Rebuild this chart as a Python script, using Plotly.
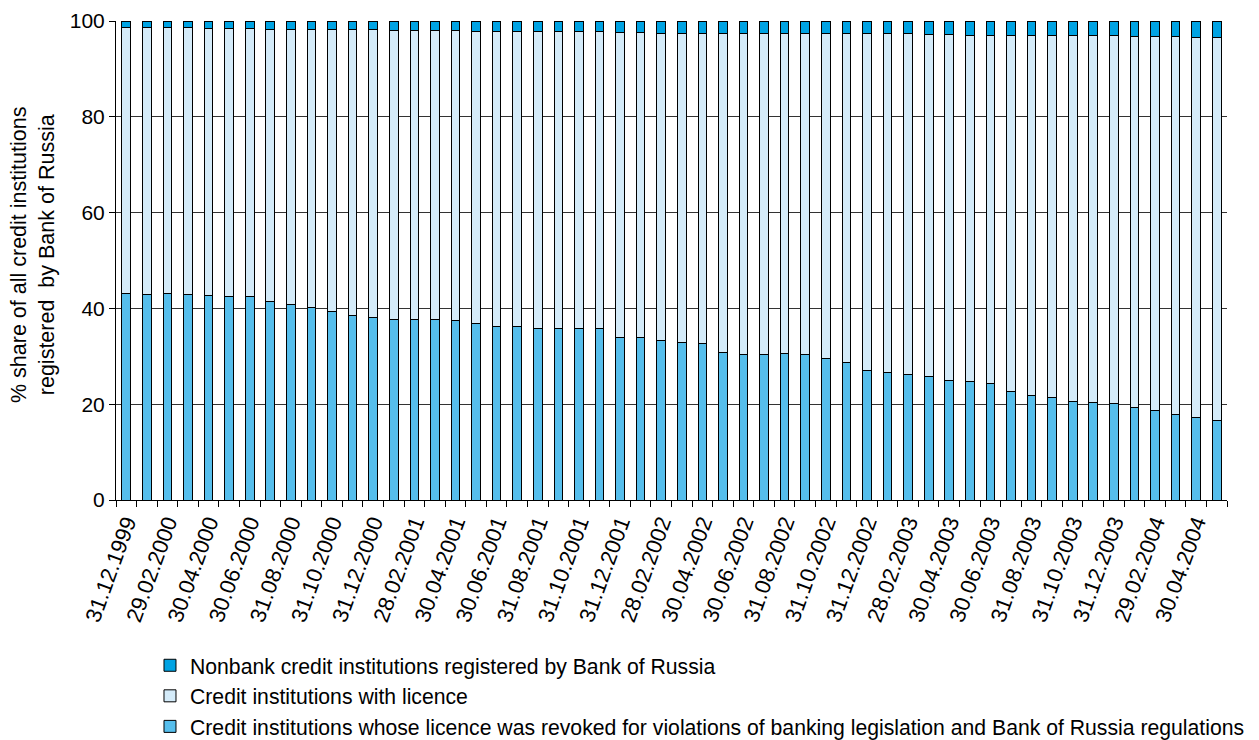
import plotly.graph_objects as go

dates = [
    "31.12.1999", "31.01.2000", "29.02.2000", "31.03.2000", "30.04.2000", "31.05.2000",
    "30.06.2000", "31.07.2000", "31.08.2000", "30.09.2000", "31.10.2000", "30.11.2000",
    "31.12.2000", "31.01.2001", "28.02.2001", "31.03.2001", "30.04.2001", "31.05.2001",
    "30.06.2001", "31.07.2001", "31.08.2001", "30.09.2001", "31.10.2001", "30.11.2001",
    "31.12.2001", "31.01.2002", "28.02.2002", "31.03.2002", "30.04.2002", "31.05.2002",
    "30.06.2002", "31.07.2002", "31.08.2002", "30.09.2002", "31.10.2002", "30.11.2002",
    "31.12.2002", "31.01.2003", "28.02.2003", "31.03.2003", "30.04.2003", "31.05.2003",
    "30.06.2003", "31.07.2003", "31.08.2003", "30.09.2003", "31.10.2003", "30.11.2003",
    "31.12.2003", "31.01.2004", "29.02.2004", "31.03.2004", "30.04.2004", "31.05.2004",
]

revoked = [
    43.13, 42.99, 43.13, 42.99, 42.64, 42.44, 42.44, 41.39, 40.77, 40.14,
    39.30, 38.47, 38.05, 37.63, 37.63, 37.63, 37.43, 36.87, 36.24, 36.30,
    35.82, 35.82, 35.82, 35.82, 34.02, 34.02, 33.25, 32.90, 32.69, 30.88,
    30.47, 30.40, 30.54, 30.40, 29.56, 28.73, 26.99, 26.60, 26.26, 25.85,
    24.94, 24.80, 24.24, 22.64, 21.74, 21.39, 20.49, 20.35, 20.14, 19.23,
    18.61, 17.77, 17.15, 16.59,
]

nonbank = [
    1.39, 1.46, 1.46, 1.46, 1.53, 1.53, 1.53, 1.74, 1.74, 1.74,
    1.74, 1.74, 1.74, 1.95, 1.95, 1.95, 1.95, 2.16, 2.16, 2.16,
    2.16, 2.16, 2.16, 2.16, 2.37, 2.37, 2.51, 2.51, 2.51, 2.51,
    2.51, 2.51, 2.51, 2.51, 2.51, 2.64, 2.64, 2.64, 2.70, 2.86,
    2.86, 2.93, 2.93, 2.93, 2.93, 3.07, 3.07, 3.07, 3.07, 3.21,
    3.21, 3.21, 3.34, 3.34,
]

licensed = [round(100 - r - n, 2) for r, n in zip(revoked, nonbank)]

names = [
    "Nonbank credit institutions registered by Bank of Russia",
    "Credit institutions with licence",
    "Credit institutions whose licence was revoked for violations of banking legislation and Bank of Russia regulations",
]
y_title = "% share of all credit institutions<br>registered  by Bank of Russia"
colors = ["#00A3E3", "#D4EBF9", "#56BEEC"]

x = list(range(len(dates)))
FONT = "Liberation Sans, Arial, sans-serif"
FS = 21
W, H = 1251, 732

fig = go.Figure()
fig.add_trace(go.Bar(x=x, y=revoked, name=names[2],
                     marker=dict(color=colors[2], line=dict(color="#000000", width=1))))
fig.add_trace(go.Bar(x=x, y=licensed, name=names[1],
                     marker=dict(color=colors[1], line=dict(color="#000000", width=1))))
fig.add_trace(go.Bar(x=x, y=nonbank, name=names[0],
                     marker=dict(color=colors[0], line=dict(color="#000000", width=1))))

tick_idx = x[::2]
fig.update_layout(
    barmode="stack",
    bargap=0.58,
    width=W, height=H,
    margin=dict(l=108, r=32, t=13, b=240, autoexpand=False),
    paper_bgcolor="white", plot_bgcolor="white",
    font=dict(family=FONT, size=FS, color="#000000"),
    showlegend=True,
    legend=dict(
        traceorder="reversed",
        orientation="v",
        xref="container", yref="container",
        x=0.1135, xanchor="left",
        y=0.1298, yanchor="top",
        font=dict(size=21.2),
        tracegroupgap=0,
        itemwidth=30,
        bgcolor="rgba(0,0,0,0)",
    ),
    xaxis=dict(
        range=[-0.5, len(dates) - 0.5],
        tickmode="array",
        tickvals=tick_idx,
        ticktext=[dates[i] for i in tick_idx],
        tickangle=-70,
        ticks="",
        showgrid=False,
        showline=True, linecolor="#000000", linewidth=1,
        zeroline=False,
        tickfont=dict(size=22),
        ticklabeloverflow="allow",
        minor=dict(tickmode="array",
                   tickvals=[i - 0.5 for i in range(len(dates) + 1)],
                   ticks="outside", ticklen=6, tickcolor="#000000", tickwidth=1,
                   showgrid=False),
    ),
    yaxis=dict(
        range=[0, 100],
        tickvals=[0, 20, 40, 60, 80, 100],
        ticks="outside", ticklen=6, tickcolor="#000000",
        showgrid=True, gridcolor="#333333", gridwidth=1,
        showline=True, linecolor="#000000", linewidth=1,
        zeroline=False,
        tickfont=dict(size=FS),
        ticklabeloverflow="allow",
    ),
    annotations=[dict(
        text=y_title, textangle=-90,
        xref="paper", yref="paper",
        x=-0.0745, y=0.512, xanchor="center", yanchor="middle",
        showarrow=False, font=dict(size=21.5), align="center",
    )],
)

fig.write_html("out.html")
